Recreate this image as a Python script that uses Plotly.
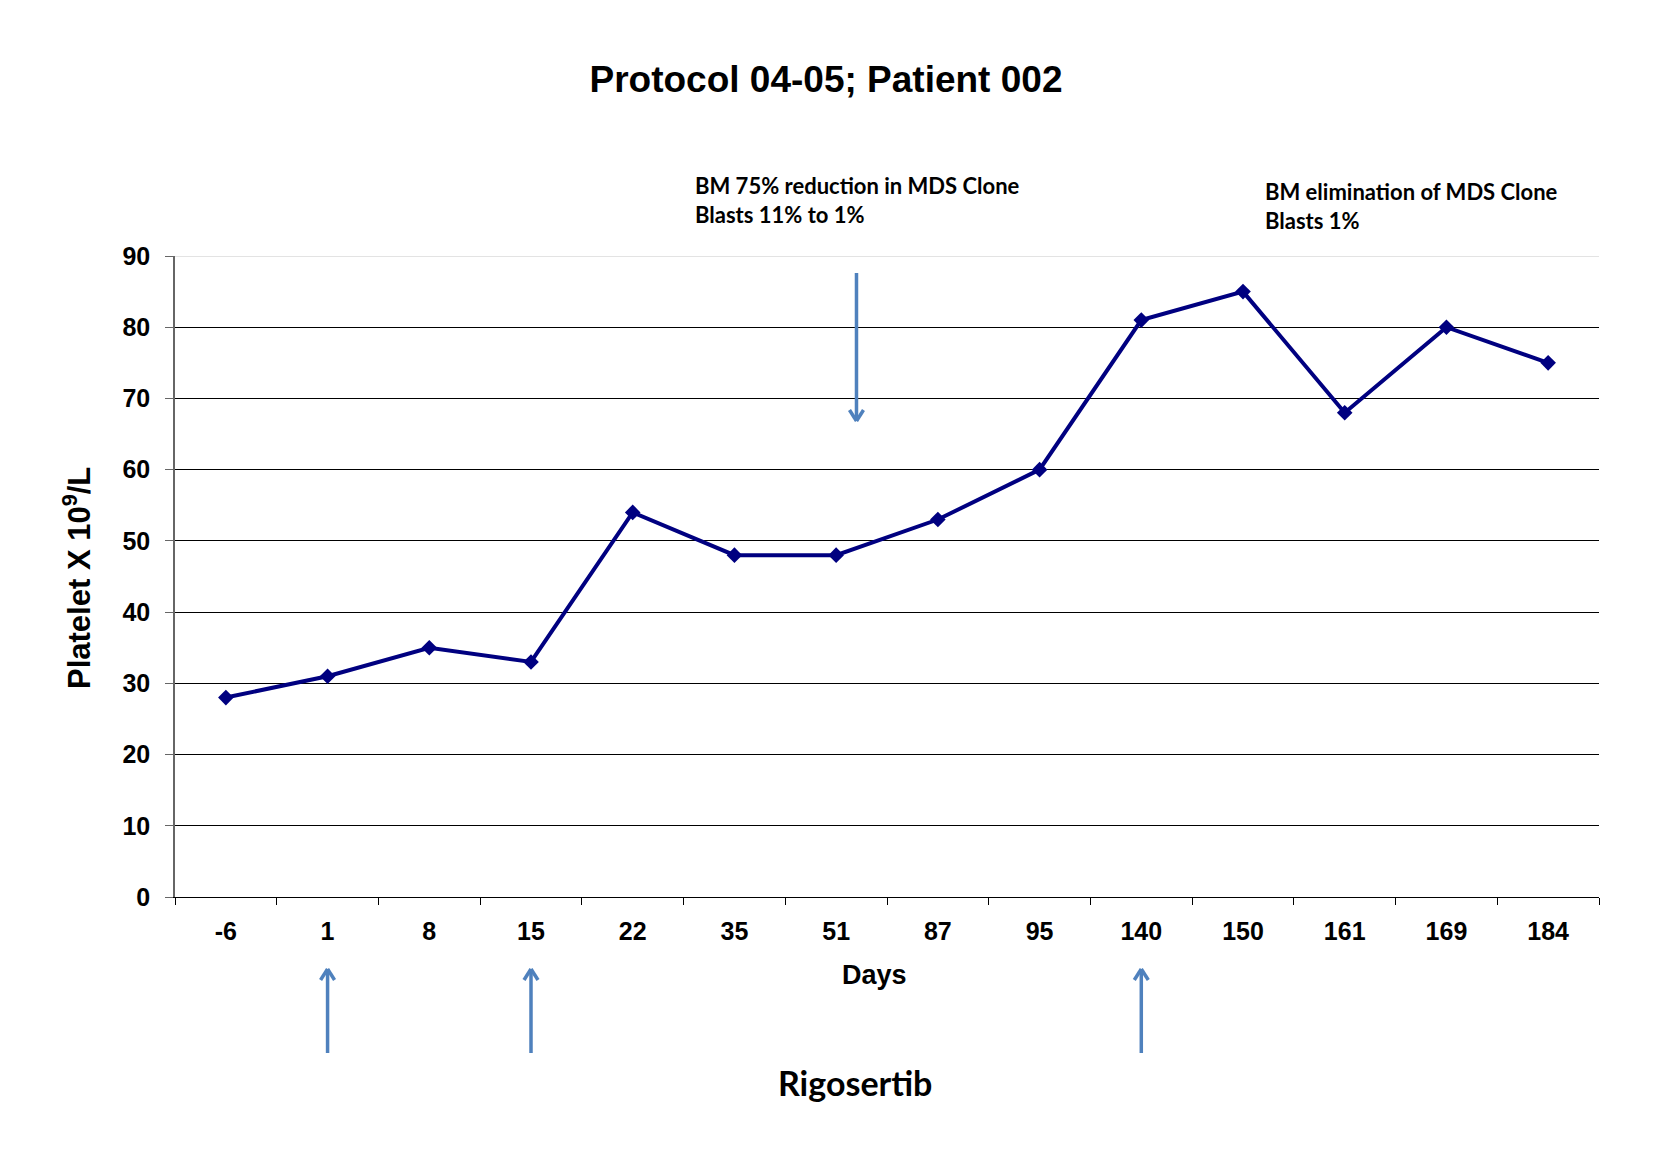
import plotly.graph_objects as go

days = ["-6", "1", "8", "15", "22", "35", "51", "87", "95", "140", "150", "161", "169", "184"]
platelets = [28, 31, 35, 33, 54, 48, 48, 53, 60, 81, 85, 68, 80, 75]
dose_days = ["1", "15", "140"]
y_ticks = [0, 10, 20, 30, 40, 50, 60, 70, 80, 90]

ARIAL = "Liberation Sans, Arial, sans-serif"
CAL = "Lato, Carlito, Calibri, sans-serif"
ARROW = "#4F81BD"
NAVY = "#000080"

OFF = 8  # page body margin
W, H = 1660, 1153
PL, PR, PT, PB = 175, 1599, 256, 897  # plot area in page pixels
L, T = PL - OFF, PT - OFF
pw, ph = PR - PL, PB - PT
R, B = W - L - pw, H - T - ph

def px(x):
    return (x - PL) / pw

def py(y):
    return (PB - y) / ph

fig = go.Figure()
fig.add_trace(go.Scatter(
    x=days, y=platelets, mode="lines+markers",
    line=dict(color=NAVY, width=4),
    marker=dict(symbol="diamond", size=12, color=NAVY),
    showlegend=False, cliponaxis=False,
))

anns = [
    dict(text="Days", xref="paper", yref="paper", x=px(874), y=py(975),
         showarrow=False, font=dict(family=ARIAL, size=27, color="black", weight="bold"),
         xanchor="center", yanchor="middle"),
    dict(text="Platelet X 10<sup>9</sup>/L", xref="paper", yref="paper",
         x=px(77), y=py(578), textangle=-90, showarrow=False,
         font=dict(family=ARIAL, size=31, color="black", weight="bold"),
         xanchor="center", yanchor="middle"),
    dict(text="Rigosertib", xref="paper", yref="paper", x=px(855), y=py(1082),
         showarrow=False, font=dict(family=CAL, size=34, color="black", weight="bold"),
         xanchor="center", yanchor="middle"),
    dict(text="BM 75% reduction in MDS Clone<br>Blasts 11% to 1%", xref="paper",
         yref="paper", x=px(693), y=py(200), showarrow=False, align="left",
         font=dict(family=CAL, size=22, color="black", weight="bold"),
         xanchor="left", yanchor="middle"),
    dict(text="BM elimination of MDS Clone<br>Blasts 1%", xref="paper",
         yref="paper", x=px(1263), y=py(206), showarrow=False, align="left",
         font=dict(family=CAL, size=22, color="black", weight="bold"),
         xanchor="left", yanchor="middle"),
]

shapes = [dict(type="line", xref="paper", yref="y", x0=0, x1=1, y0=90, y1=90,
               line=dict(color="#C8C8C8", width=1), layer="above")]

def arrow(xidx, head_y, length, up):
    """Arrow anchored at category position xidx, head at page pixel head_y."""
    s = 1 if up else -1
    common = dict(type="line", xref="x", yref="paper", xsizemode="pixel", ysizemode="pixel",
                  xanchor=xidx, yanchor=py(head_y), line=dict(color=ARROW, width=3.5),
                  layer="above")
    return [
        dict(common, x0=0, x1=0, y0=0, y1=-s * length),
        dict(common, x0=0, x1=-7, y0=0, y1=-s * 11),
        dict(common, x0=0, x1=7, y0=0, y1=-s * 11),
    ]

shapes += arrow(6.2, 421, 148, up=False)
for d in dose_days:
    shapes += arrow(days.index(d), 969, 84, up=True)

fig.update_layout(
    width=W, height=H,
    margin=dict(l=L, r=R, t=T, b=B, autoexpand=False),
    paper_bgcolor="white", plot_bgcolor="white",
    title=dict(text="Protocol 04-05; Patient 002", xref="container", x=(826 - OFF) / W,
               y=1 - (79 - OFF) / H, yanchor="middle", xanchor="center",
               font=dict(family=ARIAL, size=37, color="black", weight="bold")),
    annotations=anns,
    shapes=shapes,
)
fig.update_xaxes(
    type="category", categoryorder="array", categoryarray=days,
    tickson="boundaries", ticks="outside", ticklen=7, tickcolor="black", tickwidth=1,
    showline=True, linecolor="black", linewidth=1, showgrid=False,
    tickfont=dict(family=ARIAL, size=25, color="black", weight="bold"),
    ticklabelstandoff=12, range=[-0.5, 13.5],
)
fig.update_yaxes(
    range=[0, 90], tickvals=y_ticks, ticks="outside", ticklen=8, tickcolor="#666666",
    showline=True, linecolor="#666666", linewidth=1.5,
    showgrid=True, gridcolor="black", gridwidth=1, zeroline=False,
    tickfont=dict(family=ARIAL, size=25, color="black", weight="bold"),
    ticklabelstandoff=10,
)

fig.write_html("out.html")
